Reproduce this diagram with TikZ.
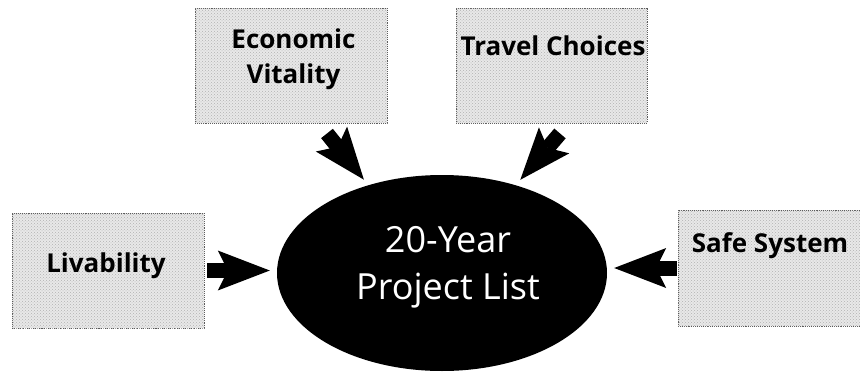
\documentclass[tikz,border=0pt]{standalone}
\usepackage{fontspec}
\setmainfont{Open Sans}
\usetikzlibrary{shapes.geometric,arrows.meta,patterns}
\begin{document}
\begin{tikzpicture}[x=1pt,y=-1pt,
  infobox/.style={draw=black!65, densely dotted, line width=0.9pt, fill=black!9, inner sep=0pt,
    postaction={pattern=crosshatch dots, pattern color=black!30}},
  boxlabel/.style={anchor=base, inner sep=0pt, font=\fontsize{26}{30}\selectfont\bfseries},
  fatarrow/.style={line width=15pt, -{Stealth[length=52pt,width=40pt,inset=10pt,line width=0pt]}, shorten >=7pt}]
\useasboundingbox (0,0) rectangle (860,372);
\fill[white] (0,0) rectangle (860,372);
% boxes
\node[infobox, minimum width=192pt, minimum height=115pt] (econ) at (291,65.5) {};
\node[infobox, minimum width=191pt, minimum height=115pt] (travel) at (551.5,65.5) {};
\node[infobox, minimum width=192pt, minimum height=115pt] (liv) at (108,270.5) {};
\node[infobox, minimum width=186pt, minimum height=116pt] (safe) at (771,268) {};
% labels
\node[boxlabel] (econA) at (293.5,48) {Economic};
\node[boxlabel] (econB) at (293.5,83) {Vitality};
\node[boxlabel] (travelT) at (553,55) {Travel Choices};
\node[boxlabel] (livT) at (106,272) {Livability};
\node[boxlabel] (safeT) at (770,252) {Safe System};
% ellipse
\node[ellipse, fill=black, minimum width=330pt, minimum height=196pt, inner sep=0pt] (proj) at (442,273) {};
\node[text=white, align=center, inner sep=0pt, font=\fontsize{36}{47}\selectfont] (projT) at (448,267) {20-Year\\Project List};
% arrows
\draw[fatarrow] ([xshift=36pt,yshift=-10pt]econ.south) -- (proj.130);
\draw[fatarrow] ([xshift=8.5pt,yshift=-10pt]travel.south) -- (proj.50);
\draw[fatarrow] ([xshift=3pt]liv.east) -- (liv.east -| proj.west);
\draw[fatarrow] ([xshift=-1pt]safe.west) -- (safe.west -| proj.east);
\end{tikzpicture}
\end{document}
